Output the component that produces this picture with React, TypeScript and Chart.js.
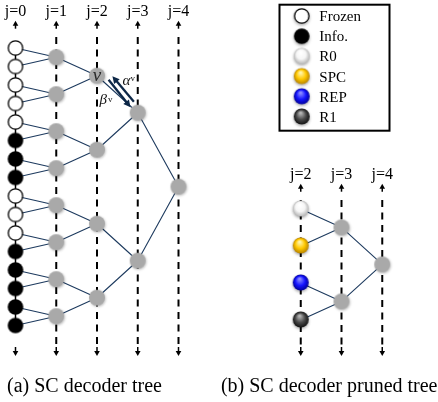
import { useEffect, useRef } from "react";
import { Chart, registerables } from "chart.js";

Chart.register(...registerables);

// ---------- data ----------
const LEFT_DEPTH_LABELS = ["j=0", "j=1", "j=2", "j=3", "j=4"];
const LEFT_DEPTHS = [0, 1, 2, 3, 4];
const RIGHT_DEPTH_LABELS = ["j=2", "j=3", "j=4"];
const RIGHT_DEPTHS = [2, 3, 4];
const LEAF_TYPES = [
  "Frozen", "Frozen", "Frozen", "Frozen", "Frozen", "Info.", "Info.", "Info.",
  "Frozen", "Frozen", "Frozen", "Info.", "Info.", "Info.", "Info.", "Info.",
];
const PRUNED_LEAF_TYPES = ["R0", "SPC", "REP", "R1"];
const LEGEND_LABELS = ["Frozen", "Info.", "R0", "SPC", "REP", "R1"];
const CAPTIONS = ["(a) SC decoder tree", "(b) SC decoder pruned tree"];
const NODE_LABEL = "v";
const MSG_LABELS = ["α", "β"];
const MSG_SUP = "v";

// ---------- layout (pixels / scale mapping) ----------
const W = 438;
const H = 402;
const COL0_PX = 15.5;
const COL_STEP = 40.75;
const ROW0_PX = 48;
const ROW_STEP = 18.5;
const X_MIN = -COL0_PX / COL_STEP;
const X_MAX = X_MIN + W / COL_STEP;
const Y_MIN = -ROW0_PX / ROW_STEP;
const Y_MAX = Y_MIN + H / ROW_STEP;
const RIGHT_X_SHIFT = 5;
const RIGHT_Y0 = 8.7;
const RIGHT_SPACING = 2;
const LEFT_GUIDE_TOP = (37 - ROW0_PX) / ROW_STEP;
const RIGHT_GUIDE_TOP = (200 - ROW0_PX) / ROW_STEP;
const GUIDE_BOTTOM = (345 - ROW0_PX) / ROW_STEP;
const SERIF = "'Liberation Serif', 'Times New Roman', serif";
const EDGE_COLOR = "#1d3a5e";
const MSG_COLOR = "#0d2747";

function makeSprite(draw: (g: CanvasRenderingContext2D) => void): HTMLCanvasElement {
  const cv = document.createElement("canvas");
  cv.width = 24;
  cv.height = 24;
  const g = cv.getContext("2d")!;
  draw(g);
  return cv;
}

function sphere(c0: string, c1: string, c2: string, r: number) {
  return makeSprite((g) => {
    const cx = 12, cy = 11.5;
    const grad = g.createRadialGradient(cx - r * 0.15, cy - r * 0.45, r * 0.1, cx, cy, r);
    grad.addColorStop(0, c0);
    grad.addColorStop(0.55, c1);
    grad.addColorStop(1, c2);
    g.shadowColor = "rgba(0,0,0,0.35)";
    g.shadowBlur = 3;
    g.shadowOffsetY = 1.5;
    g.beginPath();
    g.arc(cx, cy, r, 0, Math.PI * 2);
    g.fillStyle = grad;
    g.fill();
  });
}

function arrow(
  ctx: CanvasRenderingContext2D,
  x1: number, y1: number, x2: number, y2: number,
  lw: number, headLen: number, headHalf: number, color: string
) {
  const dx = x2 - x1, dy = y2 - y1;
  const len = Math.hypot(dx, dy);
  const ux = dx / len, uy = dy / len;
  const bx = x2 - ux * headLen, by = y2 - uy * headLen;
  ctx.strokeStyle = color;
  ctx.fillStyle = color;
  ctx.lineWidth = lw;
  ctx.setLineDash([]);
  ctx.beginPath();
  ctx.moveTo(x1, y1);
  ctx.lineTo(bx + ux * 1, by + uy * 1);
  ctx.stroke();
  ctx.beginPath();
  ctx.moveTo(x2, y2);
  ctx.lineTo(bx - uy * headHalf, by + ux * headHalf);
  ctx.lineTo(bx + uy * headHalf, by - ux * headHalf);
  ctx.closePath();
  ctx.fill();
}

export default function App() {
  const ref = useRef<HTMLCanvasElement>(null);

  useEffect(() => {
    document.body.style.margin = "0";
    const canvas = ref.current!;

    const sprites: Record<string, HTMLCanvasElement> = {
      Frozen: makeSprite((g) => {
        g.beginPath();
        g.arc(12, 12, 7.2, 0, Math.PI * 2);
        g.fillStyle = "#fff";
        g.fill();
        g.lineWidth = 1.3;
        g.strokeStyle = "#000";
        g.stroke();
      }),
      "Info.": makeSprite((g) => {
        g.beginPath();
        g.arc(12, 12, 7.8, 0, Math.PI * 2);
        g.fillStyle = "#000";
        g.fill();
      }),
      gray: makeSprite((g) => {
        g.shadowColor = "rgba(0,0,0,0.25)";
        g.shadowBlur = 2.5;
        g.shadowOffsetX = 0.8;
        g.shadowOffsetY = 1;
        g.beginPath();
        g.arc(12, 12, 8, 0, Math.PI * 2);
        g.fillStyle = "#a9a9a9";
        g.fill();
      }),
      R0: sphere("#ffffff", "#f6f6f6", "#b8b8b8", 8),
      SPC: sphere("#fff4a8", "#ffc800", "#b88400", 8),
      REP: sphere("#8a8aff", "#1515ff", "#00009a", 8),
      R1: sphere("#b4b4b4", "#4a4a4a", "#121212", 8),
    };

    // ---- left tree geometry from structure ----
    const nLeaves = LEAF_TYPES.length;
    const leftPos = (j: number, i: number) => ({
      x: j,
      y: i * 2 ** j + (2 ** j - 1) / 2,
    });
    const rightPos = (j: number, i: number) => {
      const d = j - RIGHT_DEPTHS[0];
      return {
        x: j + RIGHT_X_SHIFT,
        y: RIGHT_Y0 + RIGHT_SPACING * (i * 2 ** d + (2 ** d - 1) / 2),
      };
    };

    const leftEdges: any[] = [];
    const leftInternal: any[] = [];
    LEFT_DEPTHS.slice(1).forEach((j) => {
      const count = nLeaves / 2 ** j;
      for (let i = 0; i < count; i++) {
        const p = leftPos(j, i);
        leftInternal.push(p);
        [2 * i, 2 * i + 1].forEach((c) => {
          const q = leftPos(j - 1, c);
          leftEdges.push(q, p, { x: p.x, y: null });
        });
      }
    });
    const rightEdges: any[] = [];
    const rightInternal: any[] = [];
    RIGHT_DEPTHS.slice(1).forEach((j) => {
      const count = PRUNED_LEAF_TYPES.length / 2 ** (j - RIGHT_DEPTHS[0]);
      for (let i = 0; i < count; i++) {
        const p = rightPos(j, i);
        rightInternal.push(p);
        [2 * i, 2 * i + 1].forEach((c) => {
          const q = rightPos(j - 1, c);
          rightEdges.push(q, p, { x: p.x, y: null });
        });
      }
    });

    const datasets: any[] = [];
    // guide lines
    LEFT_DEPTHS.forEach((j) => {
      if (j === 0) {
        datasets.push({
          data: [leftPos(0, 0), leftPos(0, nLeaves - 1)],
          showLine: true, borderColor: "#000", borderWidth: 1.5,
          pointRadius: 0, order: 10,
        });
      } else {
        datasets.push({
          data: [{ x: j, y: LEFT_GUIDE_TOP }, { x: j, y: GUIDE_BOTTOM }],
          showLine: true, borderColor: "#000", borderWidth: 2,
          borderDash: [7, 5.5], pointRadius: 0, order: 10,
        });
      }
    });
    RIGHT_DEPTHS.forEach((j) => {
      datasets.push({
        data: [
          { x: j + RIGHT_X_SHIFT, y: RIGHT_GUIDE_TOP },
          { x: j + RIGHT_X_SHIFT, y: GUIDE_BOTTOM },
        ],
        showLine: true, borderColor: "#000", borderWidth: 2,
        borderDash: [7, 5.5], pointRadius: 0, order: 10,
      });
    });
    // edges
    [leftEdges, rightEdges].forEach((d) =>
      datasets.push({
        data: d, showLine: true, spanGaps: false, borderColor: EDGE_COLOR,
        borderWidth: 1.1, pointRadius: 0, order: 5,
      })
    );
    // internal nodes
    datasets.push({
      data: [...leftInternal, ...rightInternal],
      pointStyle: sprites.gray, pointRadius: 8, order: 1,
    });
    // leaves
    ["Frozen", "Info."].forEach((t) =>
      datasets.push({
        data: LEAF_TYPES.map((lt, i) => (lt === t ? leftPos(0, i) : null)).filter(Boolean),
        pointStyle: sprites[t], pointRadius: 8, order: 1,
      })
    );
    PRUNED_LEAF_TYPES.forEach((t, i) =>
      datasets.push({
        data: [rightPos(RIGHT_DEPTHS[0], i)],
        pointStyle: sprites[t], pointRadius: 8, order: 1,
      })
    );

    const decor = {
      id: "decor",
      afterDatasetsDraw(chart: any) {
        const ctx: CanvasRenderingContext2D = chart.ctx;
        const xs = chart.scales.x;
        const ys = chart.scales.y;
        ctx.save();
        const drawCols = (cols: number[], labels: string[], top: number) => {
          const tip = ys.getPixelForValue(top) - 16.3;
          const bot = ys.getPixelForValue(GUIDE_BOTTOM);
          cols.forEach((c, i) => {
            const x = xs.getPixelForValue(c);
            ctx.fillStyle = "#000";
            ctx.font = `16px ${SERIF}`;
            ctx.textAlign = "center";
            ctx.textBaseline = "alphabetic";
            ctx.fillText(labels[i], x, tip - 4.8);
            arrow(ctx, x, tip + 8, x, tip, 1.5, 5, 2.8, "#000");
            arrow(ctx, x, bot + 2, x, bot + 11, 1.5, 5, 2.8, "#000");
          });
        };
        drawCols(LEFT_DEPTHS, LEFT_DEPTH_LABELS, LEFT_GUIDE_TOP);
        drawCols(RIGHT_DEPTHS.map((j) => j + RIGHT_X_SHIFT), RIGHT_DEPTH_LABELS, RIGHT_GUIDE_TOP);

        // node label v on left tree node (j=2, i=0)
        const vp = leftPos(2, 0);
        const vx = xs.getPixelForValue(vp.x);
        const vy = ys.getPixelForValue(vp.y);
        ctx.fillStyle = "#2a2a2a";
        ctx.font = `italic 19px ${SERIF}`;
        ctx.textAlign = "center";
        ctx.fillText(NODE_LABEL, vx, vy + 5);

        // message arrows alpha (up) and beta (down)
        arrow(ctx, vx + 36.9, vy + 26.0, vx + 15.4, vy + 0.5, 2.3, 7, 3.6, MSG_COLOR);
        arrow(ctx, vx + 11.6, vy + 4.0, vx + 33.5, vy + 31.5, 2.3, 7, 3.6, MSG_COLOR);
        ctx.fillStyle = "#111";
        ctx.textAlign = "left";
        ctx.font = `italic 15px ${SERIF}`;
        ctx.fillText(MSG_LABELS[0], vx + 25.5, vy + 9.5);
        ctx.fillText(MSG_LABELS[1], vx + 2.5, vy + 28.5);
        ctx.font = `9px ${SERIF}`;
        ctx.fillText(MSG_SUP, vx + 33.5, vy + 5);
        ctx.fillText(MSG_SUP, vx + 11, vy + 26);

        // legend
        const bx = 279.5, by = 4.7, bw = 110, bh = 126;
        ctx.lineWidth = 2;
        ctx.strokeStyle = "#000";
        ctx.strokeRect(bx, by, bw, bh);
        LEGEND_LABELS.forEach((lab, i) => {
          const cy = 16 + i * 20.2;
          ctx.save();
          if (lab === "Frozen" || lab === "Info.") {
            ctx.shadowColor = "rgba(0,0,0,0.35)";
            ctx.shadowBlur = 3;
            ctx.shadowOffsetY = 1.5;
          }
          ctx.drawImage(sprites[lab], 301.7 - 12, cy - 12);
          ctx.restore();
          ctx.fillStyle = "#000";
          ctx.font = `15px ${SERIF}`;
          ctx.textAlign = "left";
          ctx.fillText(lab, 319.3, cy + 5);
        });

        // captions
        ctx.font = `20px ${SERIF}`;
        ctx.fillStyle = "#000";
        ctx.textAlign = "left";
        ctx.fillText(CAPTIONS[0], 7, 392);
        ctx.textAlign = "right";
        ctx.fillText(CAPTIONS[1], 437.5, 392);
        ctx.restore();
      },
    };

    const chart = new Chart(canvas, {
      type: "scatter",
      data: { datasets },
      options: {
        animation: false,
        responsive: false,
        events: [],
        layout: { padding: 0, autoPadding: false },
        plugins: { legend: { display: false }, tooltip: { enabled: false } },
        scales: {
          x: { type: "linear", min: X_MIN, max: X_MAX, display: false },
          y: { type: "linear", min: Y_MIN, max: Y_MAX, reverse: true, display: false },
        },
      },
      plugins: [decor],
    } as any);
    return () => chart.destroy();
  }, []);

  return (
    <div style={{ width: W, height: H }}>
      <canvas ref={ref} width={W} height={H} style={{ display: "block" }} />
    </div>
  );
}
